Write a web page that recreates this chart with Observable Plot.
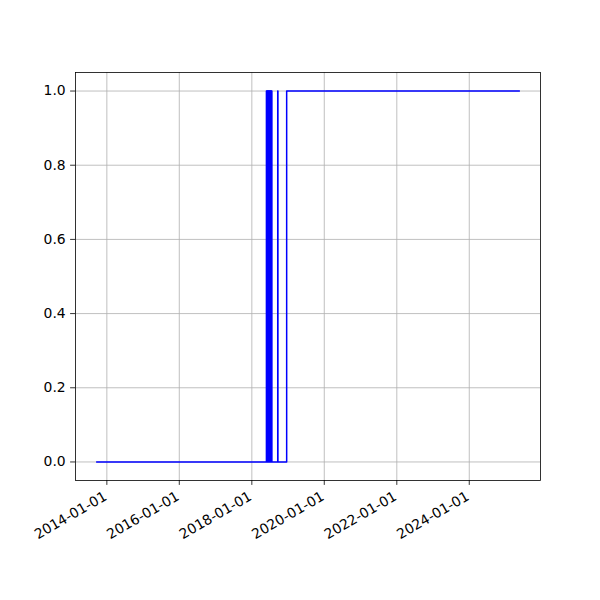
<!DOCTYPE html>
<html>
<head>
<meta charset="utf-8">
<script src="https://cdn.jsdelivr.net/npm/d3@7"></script>
<script src="https://cdn.jsdelivr.net/npm/@observablehq/plot@0.6"></script>
<style>
  html, body { margin: 0; padding: 0; background: #fff; }
  #chart { width: 600px; height: 600px; }
</style>
</head>
<body>
<div id="chart"></div>
<script>
// Step series: each date is where the value changes (held until next date)
const changeDates = [
  "2013-09-20",
  "2018-05-28", "2018-05-30", "2018-06-01", "2018-06-04", "2018-06-06", "2018-06-08",
  "2018-06-11", "2018-06-13", "2018-06-15", "2018-06-18", "2018-06-20", "2018-06-22",
  "2018-06-25", "2018-06-27", "2018-06-29", "2018-07-02", "2018-07-04", "2018-07-06",
  "2018-07-09", "2018-07-11", "2018-07-13", "2018-07-16", "2018-07-18", "2018-07-22",
  "2018-09-19", "2018-09-21",
  "2018-12-18",
  "2025-05-20"
];
const changeValues = [
  0,
  1, 0, 1, 0, 1, 0,
  1, 0, 1, 0, 1, 0,
  1, 0, 1, 0, 1, 0,
  1, 0, 1, 0, 1, 0,
  1, 0,
  1,
  1
];
const xTickDates = ["2014-01-01", "2016-01-01", "2018-01-01", "2020-01-01", "2022-01-01", "2024-01-01"];
const yTicks = [0.0, 0.2, 0.4, 0.6, 0.8, 1.0];

const parse = d3.utcParse("%Y-%m-%d");
const data = changeDates.map((d, i) => ({date: parse(d), value: changeValues[i]}));
const xTicks = xTickDates.map(parse);

const [x0, x1] = d3.extent(data, d => d.date);
const pad = (x1 - x0) * 0.05;
const xDomain = [new Date(+x0 - pad), new Date(+x1 + pad)];

const font = "DejaVu Sans, sans-serif";

const chart = Plot.plot({
  width: 600,
  height: 600,
  marginLeft: 75,
  marginRight: 60,
  marginTop: 72,
  marginBottom: 120,
  style: {fontFamily: font, fontSize: "13.9px", color: "#000", background: "#fff"},
  x: {type: "utc", domain: xDomain, axis: null},
  y: {domain: [-0.05, 1.05], axis: null},
  marks: [
    Plot.gridX(xTicks, {stroke: "#b0b0b0", strokeOpacity: 1, strokeWidth: 0.8}),
    Plot.gridY(yTicks, {stroke: "#b0b0b0", strokeOpacity: 1, strokeWidth: 0.8}),
    Plot.line(data, {x: "date", y: "value", curve: "step-after", stroke: "#0000ff", strokeWidth: 1.5}),
    Plot.frame({stroke: "#000", strokeWidth: 0.8}),
    Plot.axisX({ticks: xTicks, tickSize: 4.9, tickPadding: 0, tickFormat: () => "", label: null, stroke: "#000", strokeWidth: 0.8}),
    Plot.axisY({ticks: yTicks, tickSize: 4.9, tickPadding: 4.9, tickFormat: d3.format(".1f"), label: null, fontSize: 13.9, stroke: "#000", strokeWidth: 0.8}),
    Plot.text(xTicks, {
      x: d => d, frameAnchor: "bottom",
      text: (d, i) => xTickDates[i],
      rotate: -30, textAnchor: "end", lineAnchor: "top",
      dx: -4, dy: 10, fontSize: 13.9, fill: "#000"
    })
  ]
});
document.getElementById("chart").appendChild(chart);
</script>
</body>
</html>
